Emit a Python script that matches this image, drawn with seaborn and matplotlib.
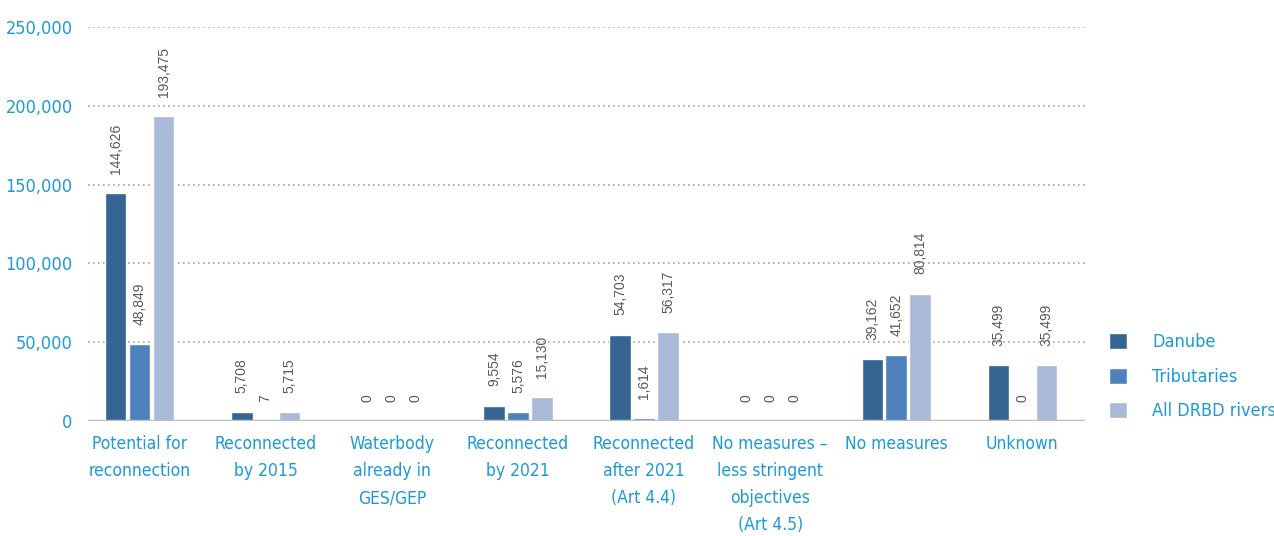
import numpy as np
import pandas as pd
import matplotlib.pyplot as plt
import seaborn as sns

# 数据
categories = ["Potential for\nreconnection", "Reconnected\nby 2015", "Waterbody\nalready in\nGES/GEP",
              "Reconnected\nby 2021", "Reconnected\nafter 2021\n(Art 4.4)",
              "No measures –\nless stringent\nobjectives\n(Art 4.5)", "No measures", "Unknown"]
series = ["Danube", "Tributaries", "All DRBD rivers"]
danube = [144626, 5708, 0, 9554, 54703, 0, 39162, 35499]
tributaries = [48849, 7, 0, 5576, 1614, 0, 41652, 0]
all_rivers = [193475, 5715, 0, 15130, 56317, 0, 80814, 35499]
colors = ["#356592", "#4f81bd", "#a9b9d8"]

df = pd.DataFrame({"category": categories * 3,
                   "series": np.repeat(series, len(categories)),
                   "value": danube + tributaries + all_rivers})

sns.set_theme(style="white")
plt.rcParams['font.family'] = ['DejaVu Sans']
plt.rcParams['font.stretch'] = 'condensed'
blue = "#1b9ad6"

fig = plt.figure(figsize=(12.74, 5.36), dpi=100)
ax = fig.add_axes([0.069, 0.2146, 0.783, 0.735])
sns.barplot(data=df, x="category", y="value", hue="series", palette=colors,
            width=0.57, gap=0.1, ax=ax, saturation=1, legend=True)

for cont, vals in zip(ax.containers, [danube, tributaries, all_rivers]):
    ax.bar_label(cont, labels=[f"{v:,}" for v in vals], rotation=90, padding=14,
                 fontsize=10, color="#595959", family="Liberation Sans", fontstretch="normal")

ax.set_ylim(0, 250000)
ax.set_xlim(-0.41, 7.5)
ax.set_yticks(np.arange(0, 250001, 50000))
ax.set_yticklabels([f"{int(t):,}" for t in ax.get_yticks()])
for y in np.arange(50000, 250001, 50000):
    ax.axhline(y, color="#a6a6a6", lw=1.2, ls=(0, (1, 2)), zorder=0)
ax.axhline(0, color="#bfbfbf", lw=2.5, zorder=3)
for s in ax.spines.values():
    s.set_visible(False)
ax.tick_params(axis='y', colors=blue, labelsize=13, length=0, pad=11)
ax.tick_params(axis='x', colors=blue, labelsize=12.5, length=0, pad=10)
for lbl in ax.get_xticklabels():
    lbl.set_linespacing(1.65)
    lbl.set_va("top")
ax.set_xlabel("")
ax.set_ylabel("")

leg = ax.legend(loc="center left", bbox_to_anchor=(1.007, 0.112), frameon=False,
                fontsize=13, handlelength=1.0, handleheight=1.0, handletextpad=1.4,
                labelspacing=0.9)
for t in leg.get_texts():
    t.set_color(blue)

fig.savefig("out.png", dpi=100)
